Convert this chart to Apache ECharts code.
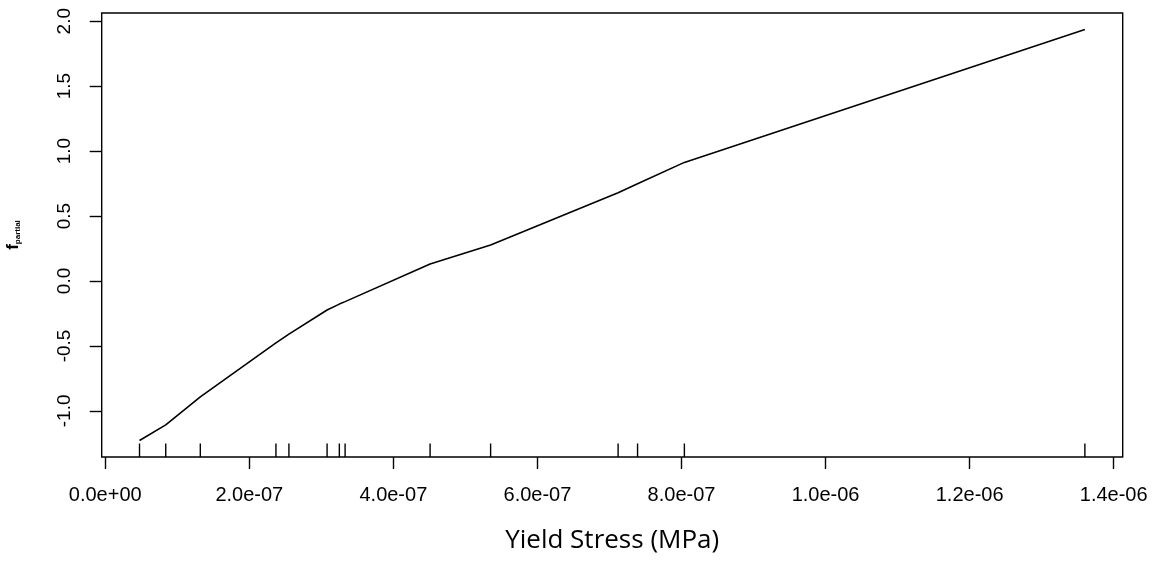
<!DOCTYPE html>
<html>
<head>
<meta charset="utf-8">
<script src="https://cdn.jsdelivr.net/npm/echarts@6/dist/echarts.min.js"></script>
<style>
html,body{margin:0;padding:0;background:#fff;}
#chart{width:1160px;height:561px;}
</style>
</head>
<body>
<div id="chart"></div>
<script>
// Data
const xValues = [4.76e-8, 8.4e-8, 1.32e-7, 2.37e-7, 2.55e-7, 3.08e-7, 3.25e-7, 3.33e-7, 4.51e-7, 5.35e-7, 7.12e-7, 7.39e-7, 8.04e-7, 1.36e-6];
const fPartial = [-1.228, -1.108, -0.892, -0.477, -0.409, -0.223, -0.178, -0.159, 0.131, 0.277, 0.679, 0.749, 0.913, 1.936];
const rugValues = [4.76e-8, 8.4e-8, 1.32e-7, 2.37e-7, 2.55e-7, 3.08e-7, 3.25e-7, 3.33e-7, 4.51e-7, 5.35e-7, 7.12e-7, 7.39e-7, 8.04e-7, 1.36e-6];
const xTicks = [0, 2e-7, 4e-7, 6e-7, 8e-7, 1e-6, 1.2e-6, 1.4e-6];
const yTicks = [-1.0, -0.5, 0.0, 0.5, 1.0, 1.5, 2.0];
const xTitle = 'Yield Stress (MPa)';

const xMin = -4.9e-9, xMax = 1.4125e-6;
const yMin = -1.355, yMax = 2.063;

function sci(v) {
  if (Math.abs(v) < 1e-20) return '0.0e+00';
  const s = v.toExponential(1);
  const parts = s.split('e');
  let exp = parseInt(parts[1], 10);
  const sign = exp < 0 ? '-' : '+';
  exp = Math.abs(exp);
  return parts[0] + 'e' + sign + (exp < 10 ? '0' + exp : '' + exp);
}

const chart = echarts.init(document.getElementById('chart'), null, {renderer: 'canvas'});
const labelFont = 'Liberation Sans, Arial, sans-serif';

chart.setOption({
  animation: false,
  backgroundColor: '#fff',
  grid: {
    left: 101.7, right: 37.3, top: 13, bottom: 104,
    containLabel: false, outerBoundsMode: 'none',
    show: true, borderColor: '#000', borderWidth: 1.4, backgroundColor: 'transparent'
  },
  xAxis: {
    type: 'value', min: xMin, max: xMax,
    axisLine: {show: false, onZero: false},
    splitLine: {show: false},
    axisTick: {show: true, customValues: xTicks, length: 12, lineStyle: {color: '#000', width: 1.4}},
    axisLabel: {customValues: xTicks, formatter: v => sci(v), margin: 28, color: '#000', fontSize: 20, fontFamily: labelFont},
    name: xTitle, nameLocation: 'middle', nameGap: 71,
    nameTextStyle: {fontSize: 26, color: '#000', fontFamily: 'Open Sans, sans-serif'}
  },
  yAxis: {
    type: 'value', min: yMin, max: yMax,
    axisLine: {show: false, onZero: false},
    splitLine: {show: false},
    axisTick: {show: true, customValues: yTicks, length: 12, lineStyle: {color: '#000', width: 1.4}},
    axisLabel: {customValues: yTicks, formatter: v => v.toFixed(1), rotate: 90, margin: 27, color: '#000', fontSize: 19, fontFamily: labelFont},
    name: '{f|f}{s|partial}', nameLocation: 'middle', nameGap: 80, nameRotate: 90,
    nameTextStyle: {
      color: '#000', fontFamily: labelFont,
      rich: {
        f: {fontSize: 17, fontWeight: 'bold', color: '#000', fontFamily: labelFont},
        s: {fontSize: 8, fontWeight: 'bold', color: '#000', fontFamily: labelFont, padding: [9, 0, 0, 0]}
      }
    }
  },
  series: [
    {
      type: 'line',
      data: xValues.map((x, i) => [x, fPartial[i]]),
      showSymbol: false, symbol: 'none',
      lineStyle: {color: '#000', width: 1.6},
      z: 3
    },
    {
      type: 'custom',
      data: rugValues.map(x => [x, yMin]),
      renderItem: function (params, api) {
        const p = api.coord([api.value(0), api.value(1)]);
        return {
          type: 'line',
          shape: {x1: p[0], y1: p[1], x2: p[0], y2: p[1] - 13.5},
          style: {stroke: '#000', lineWidth: 1.4}
        };
      },
      z: 4
    }
  ]
});
</script>
</body>
</html>
